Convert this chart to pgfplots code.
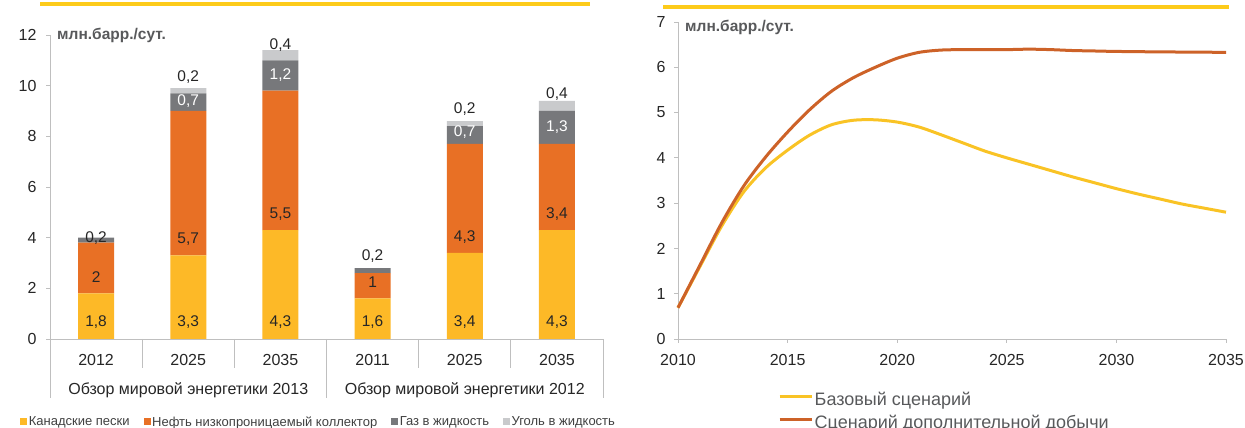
\documentclass[border=0pt]{standalone}
\usepackage{pgfplots}
\pgfplotsset{compat=1.18}
\usepackage{fontspec}
\setmainfont{Liberation Sans}
\definecolor{cy}{HTML}{FDB927}
\definecolor{co}{HTML}{E87025}
\definecolor{cg}{HTML}{77787B}
\definecolor{cl}{HTML}{C9CACC}
\definecolor{ly}{HTML}{F9C325}
\definecolor{lo}{HTML}{CD6228}
\definecolor{rulec}{HTML}{FDCB1A}
\definecolor{axg}{HTML}{BFBFBF}
\definecolor{txt}{HTML}{262626}
\definecolor{unit}{HTML}{58595B}
\definecolor{leg}{HTML}{404040}
\begin{document}
\begin{tikzpicture}
\useasboundingbox (0pt,0pt) rectangle (1245pt,428pt);
\clip (0pt,0pt) rectangle (1245pt,428pt);
\fill[rulec] (40pt,422pt) rectangle (590pt,426pt);
\fill[rulec] (663pt,419pt) rectangle (1229pt,423pt);
\tikzset{cat/.style={font=\fontsize{16}{19}\selectfont, text=txt, anchor=center, inner sep=0pt},
         vl/.style={font=\fontsize{15.5}{18}\selectfont, text=txt, anchor=center, inner sep=0pt},
         vw/.style={vl, text=white},
         sep/.style={draw=axg, line width=0.9pt}}
\pgfplotsset{leftgeom/.style={at={(50pt,89pt)}, anchor=south west,
  scale only axis, width=553pt, height=304pt,
  xmin=-0.5, xmax=5.5, ymin=0, ymax=12, clip=false}}
%---------------- left: stacked bars
\begin{axis}[
  leftgeom,
  ybar stacked, bar width=36pt,
  axis lines=left, axis line style={draw=axg, line width=0.9pt, -},
  xtick=\empty, ytick={0,2,...,12},
  tick align=outside, major tick length=4pt,
  ytick style={draw=axg, line width=0.9pt},
  yticklabel style={font=\fontsize{16}{19}\selectfont, text=txt, xshift=-6pt},
  /pgf/number format/assume math mode=true,
  legend columns=4,
  legend style={at={(-0.054,-0.273)}, anchor=west, draw=none, fill=none, inner sep=0pt,
    font=\fontsize{13}{15}\selectfont, text=leg, nodes={inner sep=1.5pt},
    /tikz/every even column/.append style={column sep=12.5pt}},
  legend image code/.code={\fill[#1,draw=none] (0pt,-3.5pt) rectangle (7pt,3.5pt);},
]
\addplot[fill=cy, draw=none] coordinates {(0,1.8) (1,3.3) (2,4.3) (3,1.6) (4,3.4) (5,4.3)};
\addlegendentry{Канадские пески}
\addplot[fill=co, draw=none] coordinates {(0,2) (1,5.7) (2,5.5) (3,1) (4,4.3) (5,3.4)};
\addlegendentry{Нефть низкопроницаемый коллектор}
\addplot[fill=cg, draw=none] coordinates {(0,0.2) (1,0.7) (2,1.2) (3,0.2) (4,0.7) (5,1.3)};
\addlegendentry{Газ в жидкость}
\addplot[fill=cl, draw=none] coordinates {(0,0) (1,0.2) (2,0.4) (3,0) (4,0.2) (5,0.4)};
\addlegendentry{Уголь в жидкость}
% separators
\draw[sep] (axis cs:-0.5,0) -- (axis cs:-0.5,-2.33);
\draw[sep] (axis cs:2.5,0) -- (axis cs:2.5,-2.33);
\draw[sep] (axis cs:5.5,0) -- (axis cs:5.5,-2.33);
\draw[sep] (axis cs:0.5,0) -- (axis cs:0.5,-1.145);
\draw[sep] (axis cs:1.5,0) -- (axis cs:1.5,-1.145);
\draw[sep] (axis cs:3.5,0) -- (axis cs:3.5,-1.145);
\draw[sep] (axis cs:4.5,0) -- (axis cs:4.5,-1.145);
% category labels
\node[cat, yshift=-21pt] at (axis cs:0,0) {2012};
\node[cat, yshift=-21pt] at (axis cs:1,0) {2025};
\node[cat, yshift=-21pt] at (axis cs:2,0) {2035};
\node[cat, yshift=-21pt] at (axis cs:3,0) {2011};
\node[cat, yshift=-21pt] at (axis cs:4,0) {2025};
\node[cat, yshift=-21pt] at (axis cs:5,0) {2035};
\node[cat, yshift=-51pt] at (axis cs:1,0) {Обзор мировой энергетики 2013};
\node[cat, yshift=-51pt] at (axis cs:4,0) {Обзор мировой энергетики 2012};
\end{axis}
% overlay axis for value labels (drawn on top of bars)
\begin{axis}[leftgeom, hide axis]
\node[vl] at (axis cs:0,0.67) {1,8};
\node[vl] at (axis cs:1,0.67) {3,3};
\node[vl] at (axis cs:2,0.67) {4,3};
\node[vl] at (axis cs:3,0.67) {1,6};
\node[vl] at (axis cs:4,0.67) {3,4};
\node[vl] at (axis cs:5,0.67) {4,3};
\node[vl] at (axis cs:0,2.43) {2};
\node[vl] at (axis cs:1,3.93) {5,7};
\node[vl] at (axis cs:2,4.93) {5,5};
\node[vl] at (axis cs:3,2.23) {1};
\node[vl] at (axis cs:4,4.03) {4,3};
\node[vl] at (axis cs:5,4.93) {3,4};
\node[vl] at (axis cs:0,3.99) {0,2};
\node[vw] at (axis cs:1,9.38) {0,7};
\node[vw] at (axis cs:2,10.42) {1,2};
\node[vl] at (axis cs:3,3.28) {0,2};
\node[vw] at (axis cs:4,8.15) {0,7};
\node[vw] at (axis cs:5,8.35) {1,3};
\node[vl] at (axis cs:1,10.34) {0,2};
\node[vl] at (axis cs:2,11.62) {0,4};
\node[vl] at (axis cs:4,9.08) {0,2};
\node[vl] at (axis cs:5,9.65) {0,4};
\end{axis}
\node[anchor=west, inner sep=0pt, font=\bfseries\fontsize{15.5}{18}\selectfont, text=unit] at (57pt,393pt) {млн.барр./сут.};
%---------------- right: lines
\begin{axis}[
  at={(678pt,89pt)}, anchor=south west,
  scale only axis, width=548pt, height=317pt,
  xmin=2010, xmax=2035, ymin=0, ymax=7,
  axis lines=left, axis line style={draw=axg, line width=0.9pt, -},
  xtick={2010,2015,...,2035}, ytick={0,1,...,7},
  tick align=outside, major tick length=4pt,
  tick style={draw=axg, line width=0.9pt},
  xticklabel style={font=\fontsize{16}{19}\selectfont, text=txt, yshift=-8pt},
  yticklabel style={font=\fontsize{16}{19}\selectfont, text=txt, xshift=-5pt},
  /pgf/number format/assume math mode=true,
  /pgf/number format/1000 sep={},
  clip=false,
  legend style={at={(0.1825,-0.232)}, anchor=west, draw=none, fill=none, inner sep=0pt,
    font=\fontsize{18}{21}\selectfont, text=unit,
    nodes={inner sep=1.5pt, text height=12pt, text depth=3pt}, row sep=5pt},
  legend cell align=left,
  legend image code/.code={\draw[#1] (0pt,5pt) -- (32pt,5pt);},
]
\addplot[ly, line width=3pt, smooth] coordinates {
(2010,0.69) (2011,1.6) (2012,2.5) (2013,3.25) (2014,3.78) (2015,4.17) (2016,4.5) (2017,4.73)
(2018,4.83) (2019,4.84) (2020,4.79) (2021,4.68) (2022,4.51) (2023,4.33) (2024,4.15) (2025,4.0)
(2026,3.86) (2027,3.72) (2028,3.58) (2029,3.45) (2030,3.32) (2031,3.2) (2032,3.09) (2033,2.98)
(2034,2.89) (2035,2.8)};
\addlegendentry{Базовый сценарий}
\addplot[lo, line width=3pt, smooth] coordinates {
(2010,0.69) (2011,1.63) (2012,2.57) (2013,3.38) (2014,4.02) (2015,4.57) (2016,5.06) (2017,5.47)
(2018,5.77) (2019,6.0) (2020,6.2) (2021,6.33) (2022,6.38) (2023,6.39) (2024,6.39) (2025,6.39)
(2026,6.4) (2027,6.39) (2028,6.37) (2029,6.36) (2030,6.35) (2032,6.34) (2035,6.33)};
\addlegendentry{Сценарий дополнительной добычи}
\end{axis}
\node[anchor=west, inner sep=0pt, font=\bfseries\fontsize{15.5}{18}\selectfont, text=unit] at (685pt,401pt) {млн.барр./сут.};
\end{tikzpicture}
\end{document}
